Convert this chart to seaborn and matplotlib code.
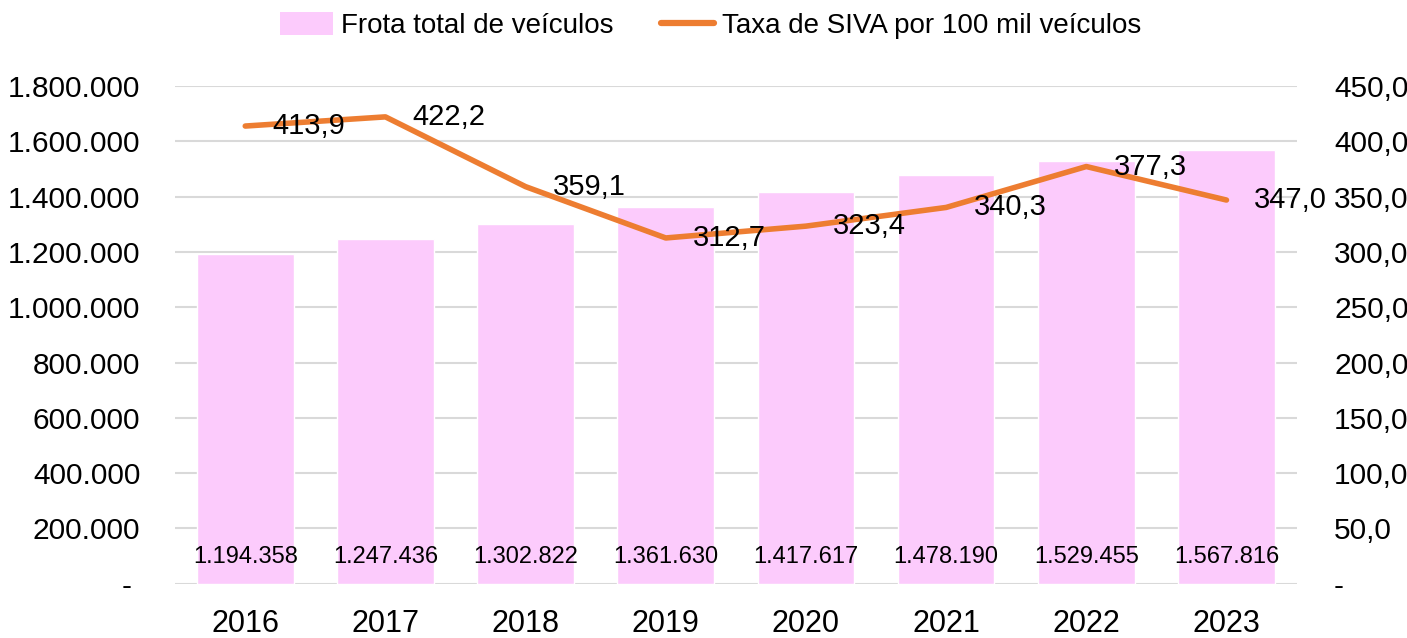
import matplotlib
matplotlib.use("Agg")
import matplotlib.pyplot as plt
import matplotlib.ticker as mticker
from matplotlib.lines import Line2D
from matplotlib.patches import Patch
import seaborn as sns
import pandas as pd

anos = ["2016", "2017", "2018", "2019", "2020", "2021", "2022", "2023"]
frota = [1194358, 1247436, 1302822, 1361630, 1417617, 1478190, 1529455, 1567816]
taxa = [413.9, 422.2, 359.1, 312.7, 323.4, 340.3, 377.3, 347.0]

df = pd.DataFrame({"ano": anos, "frota": frota, "taxa": taxa})

BAR = "#FCCBFC"
LINE = "#ED7D31"
GRID = "#D9D9D9"

sns.set_theme(style="white")
plt.rcParams["font.family"] = ["Liberation Sans", "DejaVu Sans"]
plt.rcParams["text.color"] = "black"

fig = plt.figure(figsize=(14.07, 6.38), dpi=100)
ax = fig.add_axes([0.1245, 0.085, 0.797, 0.78])

sns.barplot(data=df, x="ano", y="frota", color=BAR, width=0.69, ax=ax,
            saturation=1, zorder=2)
ax.set_ylim(0, 1800000)
ax.set_xlim(-0.5, len(anos) - 0.5)
ax.yaxis.set_major_locator(mticker.MultipleLocator(200000))


def fmt_br(v, _=None):
    if v == 0:
        return "- "
    return f"{v:,.0f}".replace(",", ".")


ax.yaxis.set_major_formatter(mticker.FuncFormatter(fmt_br))
ax.grid(axis="y", color=GRID, linewidth=1.5, zorder=0)
ax.set_axisbelow(True)
for s in ax.spines.values():
    s.set_visible(False)
ax.set_xlabel("")
ax.set_ylabel("")
ax.tick_params(axis="both", length=0, colors="black")
ax.tick_params(axis="y", labelsize=21.5, pad=25)
ax.tick_params(axis="x", labelsize=22, pad=18)

for i, v in enumerate(frota):
    ax.text(i, 97000, fmt_br(v), ha="center", va="center", fontsize=17,
            color="black", zorder=4)

ax2 = ax.twinx()
sns.lineplot(x=list(range(len(anos))), y=taxa, color=LINE, linewidth=4,
             ax=ax2, zorder=3, solid_capstyle="round")
ax2.set_ylim(0, 450)
ax2.yaxis.set_major_locator(mticker.MultipleLocator(50))
ax2.yaxis.set_major_formatter(mticker.FuncFormatter(
    lambda v, _: "-" if v == 0 else f"{v:.1f}".replace(".", ",")))
for s in ax2.spines.values():
    s.set_visible(False)
ax2.tick_params(axis="y", length=0, labelsize=21.5, colors="black", pad=27)
ax2.set_ylabel("")
ax2.grid(False)

for i, v in enumerate(taxa):
    ax2.annotate(f"{v:.1f}".replace(".", ","), (i, v),
                 xytext=(46, 0), textcoords="offset points",
                 ha="center", va="center", fontsize=21, color="black",
                 zorder=5)

handles = [Patch(facecolor=BAR, edgecolor="none"),
           Line2D([0], [0], color=LINE, linewidth=4.5, solid_capstyle="round")]
fig.legend(handles, ["Frota total de veículos", "Taxa de SIVA por 100 mil veículos"],
           loc="upper center", bbox_to_anchor=(0.505, 1.02), ncol=2, frameon=False,
           prop={"family": ["Liberation Sans Narrow", "Liberation Sans"], "size": 20},
           labelcolor="black",
           handlelength=1.9, handleheight=0.9, columnspacing=1.7, handletextpad=0.3)

fig.savefig("out.png", dpi=100)
